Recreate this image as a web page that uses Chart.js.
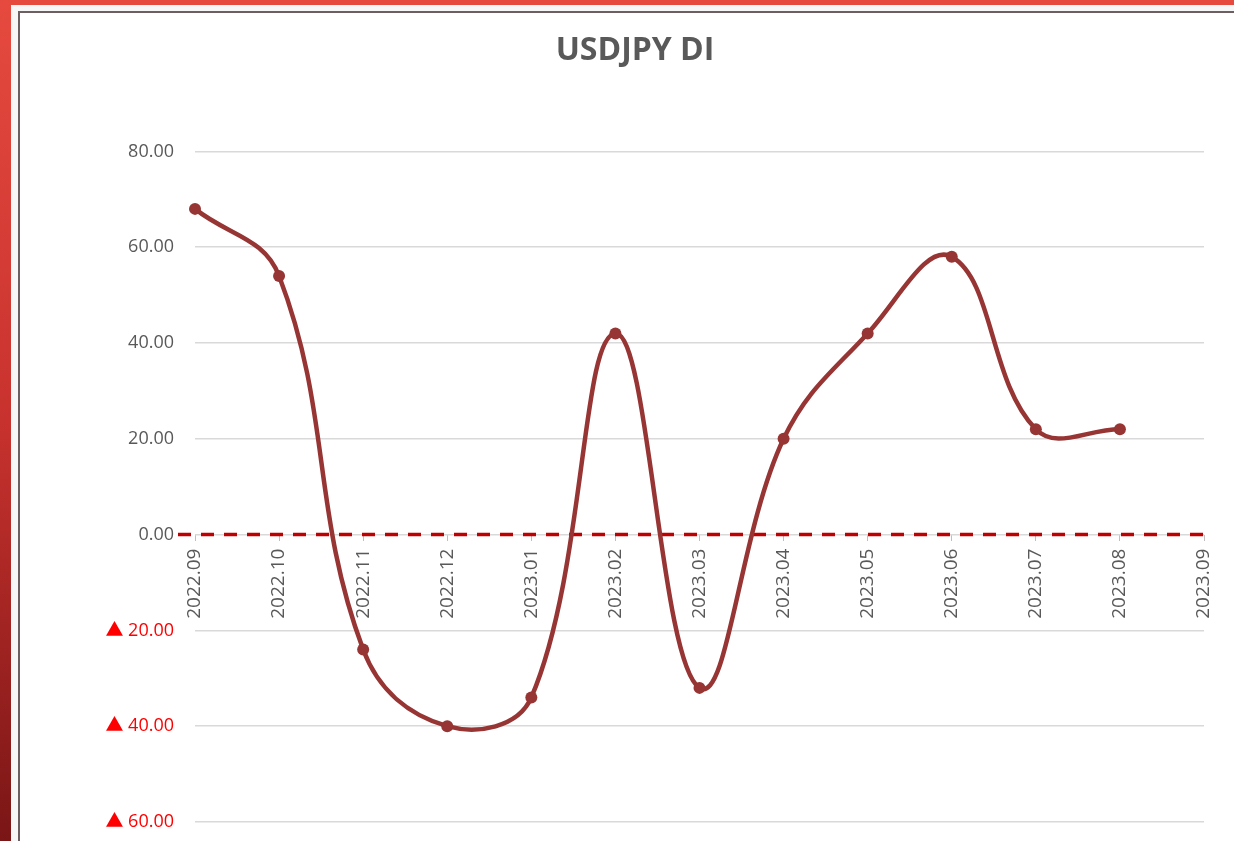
<!DOCTYPE html>
<html>
<head>
<meta charset="utf-8">
<script src="https://cdn.jsdelivr.net/npm/chart.js@4/dist/chart.umd.min.js"></script>
<style>
  html, body { margin: 0; padding: 0; }
  body { width: 1234px; height: 841px; overflow: hidden; position: relative; background: #e64a3f; }
  #strip { position: absolute; left: 0; top: 0; width: 11px; height: 841px;
           background: linear-gradient(to bottom, #e64a3f 0%, #c8322e 50%, #7a1616 100%); }
  #sheet { position: absolute; left: 11px; top: 5px; right: 0; bottom: 0; background: #f7f7f7; }
  #frame { position: absolute; left: 18px; top: 11px; width: 1300px; height: 900px;
           border-left: 2px solid #6d5f5f; border-top: 2px solid #6d5f5f; background: #ffffff; }
  canvas { display: block; }
</style>
</head>
<body>
<div id="strip"></div>
<div id="sheet"></div>
<div id="frame"><canvas id="c" width="1230" height="828"></canvas></div>
<script>
const chartTitle = 'USDJPY DI';
const categories = ['2022.09','2022.10','2022.11','2022.12','2023.01','2023.02','2023.03','2023.04','2023.05','2023.06','2023.07','2023.08','2023.09'];
const diValues = [68, 54, -24, -40, -34, 42, -32, 20, 42, 58, 22, 22, null];
const yMin = -60;
const yMax = 80;
const yStep = 20;
const referenceLevel = 0;

const lineColor = '#963533';
const textGray = '#595959';

const zeroLinePlugin = {
  id: 'zeroLine',
  beforeDatasetsDraw(chart) {
    const y = chart.scales.y.getPixelForValue(referenceLevel);
    const a = chart.chartArea;
    const ctx = chart.ctx;
    ctx.save();
    ctx.strokeStyle = '#c00000';
    ctx.lineWidth = 3.5;
    ctx.setLineDash([13, 10]);
    ctx.beginPath();
    ctx.moveTo(a.left - 17, y);
    ctx.lineTo(a.right + 8, y);
    ctx.stroke();
    ctx.restore();
  }
};

new Chart(document.getElementById('c'), {
  type: 'line',
  data: {
    labels: categories,
    datasets: [{
      label: chartTitle,
      data: diValues,
      borderColor: lineColor,
      backgroundColor: lineColor,
      borderWidth: 4.5,
      tension: 0.4,
      pointRadius: 6,
      pointHoverRadius: 6,
      pointBorderWidth: 0,
      pointBackgroundColor: lineColor,
      spanGaps: false,
      clip: false
    }]
  },
  options: {
    responsive: false,
    animation: false,
    layout: { padding: { left: 46, right: 46, top: 0, bottom: 19 } },
    plugins: {
      legend: { display: false },
      tooltip: { enabled: false },
      title: {
        display: true,
        text: chartTitle,
        color: textGray,
        font: { family: 'Open Sans', size: 32, weight: 'bold', lineHeight: 1.2 },
        padding: { top: 19, bottom: 81 }
      }
    },
    scales: {
      x: {
        type: 'category',
        position: { y: 0 },
        offset: false,
        grid: { drawOnChartArea: false, drawTicks: true, tickLength: 6, color: '#bfbfbf', lineWidth: 1 },
        border: { display: false },
        ticks: {
          autoSkip: false,
          minRotation: 90,
          maxRotation: 90,
          padding: 8,
          color: textGray,
          font: { family: 'Open Sans', size: 19 }
        }
      },
      y: {
        min: yMin,
        max: yMax,
        afterFit(scale) { scale.width = 129; },
        grid: { drawTicks: true, tickLength: 21, tickColor: 'rgba(0,0,0,0)', color: '#d9d9d9', lineWidth: 1.5 },
        border: { display: false },
        ticks: {
          stepSize: yStep,
          padding: 0,
          font: { family: "'Open Sans', 'Noto Sans CJK JP'", size: 18 },
          color: (ctx) => (ctx.tick && ctx.tick.value < 0) ? '#ff0000' : textGray,
          callback: (v) => v < 0 ? '\u25B2 ' + Math.abs(v).toFixed(2) : Number(v).toFixed(2)
        }
      }
    }
  },
  plugins: [zeroLinePlugin]
});
</script>
</body>
</html>
